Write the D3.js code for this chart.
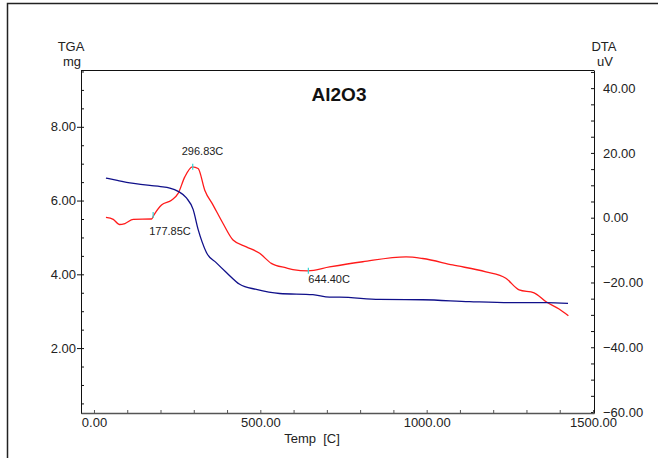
<!DOCTYPE html>
<html>
<head>
<meta charset="utf-8">
<script src="https://cdn.jsdelivr.net/npm/d3@7"></script>
<style>
  body { margin: 0; background: #fff; }
  svg { display: block; font-family: "Liberation Sans", Arial, sans-serif; }
  .axis text { font-size: 13px; fill: #222; }
</style>
</head>
<body>
<svg id="chart"></svg>
<script>
var chartWidth = 658;
var chartHeight = 458;

/********
 * Data *
 ********/

// temperature (C) / TGA (mg)
var tgaTemp = [36, 70, 108, 140, 168, 200, 228, 253, 278, 298, 313, 325, 338, 368, 398, 438, 488, 558, 658, 708, 738, 858, 988, 1129, 1258, 1359, 1425];
var tgaMass = [6.61, 6.55, 6.48, 6.44, 6.41, 6.38, 6.34, 6.25, 6.07, 5.76, 5.22, 4.88, 4.59, 4.31, 4.05, 3.73, 3.59, 3.48, 3.45, 3.38, 3.38, 3.32, 3.31, 3.26, 3.23, 3.23, 3.21];

// temperature (C) / DTA (uV)
var dtaTemp = [36, 58, 76, 93, 118, 173, 180, 203, 233, 253, 273, 296, 313, 333, 358, 388, 418, 458, 498, 533, 578, 598, 643, 708, 808, 938, 988, 1078, 1178, 1238, 1278, 1323, 1358, 1398, 1426];
var dtaVolt = [0.1, -0.5, -2.1, -1.8, -0.5, -0.4, 0.8, 3.9, 5.4, 7.5, 12.6, 15.7, 15.2, 8.5, 3.9, -1.8, -6.9, -9.0, -11.0, -14.1, -15.5, -16.0, -16.4, -15.2, -13.6, -12.1, -12.6, -14.6, -16.7, -18.7, -22.3, -23.2, -25.9, -28.2, -30.3];

// peak markers
var peakTemp = [296.83, 177.85, 644.40];
var peakVolt = [15.7, 0.8, -16.4];
var peakLabel = ["296.83C", "177.85C", "644.40C"];

var xTicks = [0, 500, 1000, 1500];
var leftTicks = [2, 4, 6, 8];
var rightTicks = [40, 20, 0, -20, -40, -60];

/**********
 * Scales *
 **********/

var plotLeft = 81, plotRight = 594, plotTop = 70, plotBottom = 413;

var x = d3.scaleLinear().domain([-39, 1503]).range([plotLeft, plotRight]);
var yL = d3.scaleLinear().domain([0.24, 9.54]).range([plotBottom, plotTop]);
var yR = d3.scaleLinear().domain([-60.3, 45.6]).range([plotBottom, plotTop]);

var svg = d3.select("#chart")
    .attr("width", chartWidth)
    .attr("height", chartHeight);

// outer frame (top + left)
svg.append("path")
    .attr("d", "M7.5," + chartHeight + "V3.5H" + chartWidth)
    .attr("fill", "none")
    .attr("stroke", "#222")
    .attr("stroke-width", 1.5);

// plot frame top
svg.append("line")
    .attr("x1", plotLeft).attr("x2", plotRight)
    .attr("y1", plotTop + 0.5).attr("y2", plotTop + 0.5)
    .attr("stroke", "#111");

/********
 * Axes *
 ********/

function styleAxis(g, color) {
    g.select(".domain").attr("stroke", color);
    g.selectAll(".tick line").attr("stroke", color);
}

// left minor ticks (inward)
var leftMinor = svg.append("g")
    .attr("class", "axis")
    .attr("transform", "translate(" + plotLeft + ",0)")
    .call(d3.axisRight(yL).tickValues(d3.range(0.5, 9.6, 0.5)).tickSize(3).tickFormat(""));
styleAxis(leftMinor, "#111");

var leftAxis = svg.append("g")
    .attr("class", "axis")
    .attr("transform", "translate(" + plotLeft + ",0)")
    .call(d3.axisLeft(yL).tickValues(leftTicks).tickSize(4).tickSizeOuter(0).tickPadding(1).tickFormat(d3.format(".2f")));
styleAxis(leftAxis, "#111");

// right axis (ticks pointing inward)
var rightMinor = svg.append("g")
    .attr("class", "axis")
    .attr("transform", "translate(" + plotRight + ",0)")
    .call(d3.axisLeft(yR).tickValues(d3.range(-60, 46, 5)).tickSize(3).tickSizeOuter(0).tickFormat(""));
styleAxis(rightMinor, "#111");

var rightAxis = svg.append("g")
    .attr("class", "axis")
    .attr("transform", "translate(" + plotRight + ",0)")
    .call(d3.axisRight(yR).tickValues(rightTicks).tickSize(0).tickPadding(9).tickFormat(d3.format(".2f")));
rightAxis.select(".domain").remove();

// bottom axis
var xMinor = svg.append("g")
    .attr("class", "axis")
    .attr("transform", "translate(0," + plotBottom + ")")
    .call(d3.axisTop(x).tickValues(d3.range(0, 1501, 100)).tickSize(3).tickSizeOuter(0).tickFormat(""));
styleAxis(xMinor, "#555");
xMinor.select(".domain").attr("stroke-width", 1.5);

var xAxis = svg.append("g")
    .attr("class", "axis")
    .attr("transform", "translate(0," + plotBottom + ")")
    .call(d3.axisBottom(x).tickValues(xTicks).tickSize(0).tickPadding(5).tickFormat(d3.format(".2f")));
xAxis.select(".domain").remove();

/**********
 * Curves *
 **********/

var tgaLine = d3.line()
    .x(function(d, i) { return x(tgaTemp[i]); })
    .y(function(d, i) { return yL(tgaMass[i]); })
    .curve(d3.curveMonotoneX);

var dtaLine = d3.line()
    .x(function(d, i) { return x(dtaTemp[i]); })
    .y(function(d, i) { return yR(dtaVolt[i]); })
    .curve(d3.curveMonotoneX);

svg.append("path")
    .attr("d", dtaLine(dtaTemp))
    .attr("fill", "none")
    .attr("stroke", "#ff1a1a")
    .attr("stroke-width", 1.3);

svg.append("path")
    .attr("d", tgaLine(tgaTemp))
    .attr("fill", "none")
    .attr("stroke", "#10108a")
    .attr("stroke-width", 1.3);

// peak markers
svg.selectAll(".peak")
    .data(peakTemp)
    .enter().append("line")
    .attr("class", "peak")
    .attr("x1", function(d) { return x(d); })
    .attr("x2", function(d) { return x(d); })
    .attr("y1", function(d, i) { return yR(peakVolt[i]) - 3; })
    .attr("y2", function(d, i) { return yR(peakVolt[i]) + 3; })
    .attr("stroke", "#33d6d6")
    .attr("stroke-width", 1.2);

var labelDx = [-11, -4, 0];
var labelDy = [-12, 20, 12];
svg.selectAll(".peak-label")
    .data(peakLabel)
    .enter().append("text")
    .attr("class", "peak-label")
    .attr("x", function(d, i) { return x(peakTemp[i]) + labelDx[i]; })
    .attr("y", function(d, i) { return yR(peakVolt[i]) + labelDy[i]; })
    .attr("font-size", "11px")
    .attr("fill", "#222")
    .text(function(d) { return d; });

/**********
 * Labels *
 **********/

svg.append("text")
    .attr("x", 339).attr("y", 101)
    .attr("text-anchor", "middle")
    .attr("font-size", "19px")
    .attr("font-weight", "bold")
    .attr("fill", "#111")
    .text("Al2O3");

svg.append("text").attr("x", 71).attr("y", 51).attr("text-anchor", "middle")
    .attr("font-size", "13px").attr("fill", "#222").text("TGA");
svg.append("text").attr("x", 72).attr("y", 66).attr("text-anchor", "middle")
    .attr("font-size", "13px").attr("fill", "#222").text("mg");
svg.append("text").attr("x", 604).attr("y", 51).attr("text-anchor", "middle")
    .attr("font-size", "13px").attr("fill", "#222").text("DTA");
svg.append("text").attr("x", 605).attr("y", 66).attr("text-anchor", "middle")
    .attr("font-size", "13px").attr("fill", "#222").text("uV");

svg.append("text")
    .attr("x", 312).attr("y", 443)
    .attr("text-anchor", "middle")
    .attr("font-size", "13px")
    .attr("fill", "#222")
    .attr("xml:space", "preserve")
    .style("white-space", "pre")
    .text("Temp  [C]");
</script>
</body>
</html>
